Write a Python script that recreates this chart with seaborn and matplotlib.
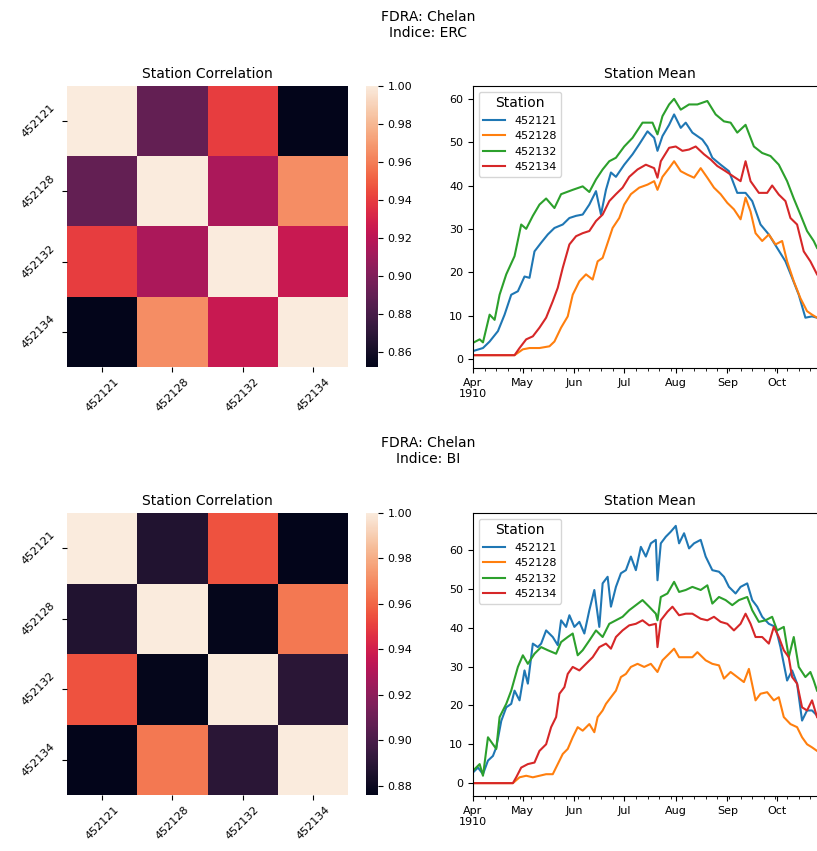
import numpy as np
import pandas as pd
import matplotlib
matplotlib.use("Agg")
import matplotlib.pyplot as plt
import matplotlib.dates as mdates
import matplotlib.ticker as mticker
import seaborn as sns

stations = ["452121", "452128", "452132", "452134"]
fdra = "Chelan"
indices = ["ERC", "BI"]

# correlation matrices
erc_corr = [[1.000, 0.890, 0.940, 0.852],
            [0.890, 1.000, 0.915, 0.965],
            [0.940, 0.915, 1.000, 0.925],
            [0.852, 0.965, 0.925, 1.000]]
bi_corr = [[1.000, 0.887, 0.955, 0.876],
           [0.887, 1.000, 0.877, 0.965],
           [0.955, 0.877, 1.000, 0.890],
           [0.876, 0.965, 0.890, 1.000]]

start_date = "1910-04-01"

# ---- ERC station means: (day offset from Apr 1, value) ----
erc_121_days = [0, 6, 10, 15, 19, 23, 27, 31, 34, 37, 41, 45, 49, 54, 58, 62, 66, 70, 74, 77, 80, 83, 86, 91, 96, 100, 105, 109, 111, 114, 118, 121, 125, 128, 132, 138, 141, 144, 149, 154, 159, 164, 168, 173, 178, 183, 188, 192, 196, 200, 204, 207]
erc_121_vals = [1.8, 2.5, 4, 6.4, 10.2, 14.8, 15.6, 19, 18.7, 24.8, 26.8, 28.7, 30.2, 31, 32.5, 33, 33.3, 35.6, 38.7, 33.3, 39, 43, 42, 44.8, 47.2, 49.5, 52.5, 51, 48, 51.4, 54, 56.4, 53.3, 54.5, 52.2, 50.6, 49, 46.4, 44.8, 43.3, 38.3, 38.3, 36.4, 31, 28.7, 25.6, 22.5, 18.7, 14.8, 9.5, 9.8, 9.5]

erc_128_days = [0, 25, 30, 34, 40, 46, 49, 53, 57, 60, 64, 68, 72, 75, 78, 80, 84, 88, 91, 95, 100, 105, 109, 111, 114, 118, 121, 125, 129, 133, 137, 141, 145, 149, 153, 157, 161, 164, 167, 170, 174, 178, 182, 186, 189, 193, 197, 201, 204, 207]
erc_128_vals = [0.85, 0.85, 2.2, 2.5, 2.5, 2.9, 4, 7.2, 9.8, 14.8, 17.9, 19.5, 18.3, 22.5, 23.3, 25.6, 30.2, 32.5, 35.6, 38, 39.5, 40.2, 41, 39, 42, 44, 45.6, 43.3, 42.5, 41.8, 44, 41.8, 39.5, 38, 36, 34.5, 32.2, 37.2, 34, 29, 27.2, 28.7, 26.4, 27.2, 22.5, 17.9, 14, 11, 10.2, 9.5]

erc_132_days = [0, 4, 6, 10, 13, 16, 20, 25, 29, 32, 36, 40, 44, 49, 53, 60, 66, 70, 74, 78, 82, 86, 91, 96, 102, 108, 111, 114, 118, 121, 125, 130, 135, 141, 146, 151, 155, 159, 164, 169, 174, 179, 184, 189, 193, 197, 201, 205, 207]
erc_132_vals = [3.7, 4.5, 3.8, 10.2, 9, 14.8, 19.5, 23.7, 31, 30, 33, 35.6, 37, 34.8, 38, 39, 39.8, 38.5, 41.4, 43.7, 45.6, 46.4, 49, 51, 54.5, 54.5, 51.8, 56, 58.7, 60, 57.5, 58.7, 58.7, 59.5, 56.4, 54.8, 54.5, 52.2, 54, 49, 47.5, 46.8, 44.8, 41, 37, 33.3, 29.5, 27.2, 25.6]

erc_134_days = [0, 25, 28, 32, 36, 40, 44, 48, 51, 54, 58, 62, 66, 70, 74, 78, 82, 86, 90, 94, 99, 104, 109, 111, 113, 118, 122, 126, 130, 134, 139, 143, 147, 152, 157, 161, 164, 167, 172, 177, 180, 184, 188, 191, 195, 199, 203, 207]
erc_134_vals = [0.85, 0.85, 2.5, 4.5, 5.2, 7.2, 9.5, 13.3, 16.4, 21, 26.4, 28.3, 29, 29.5, 31.8, 33.3, 36.4, 38, 39.5, 42, 43.7, 44.8, 44, 41.8, 45.6, 48.7, 49, 48, 48.3, 49, 47.2, 46, 44.5, 43.3, 42, 41, 45.6, 41, 38.3, 38.3, 40, 37.9, 36.4, 32.5, 31, 24.8, 22.5, 19.5]

# ---- BI station means ----
bi_121_days = [0, 3, 6, 9, 12, 14, 17, 20, 23, 25, 28, 31, 33, 36, 39, 41, 44, 48, 51, 53, 56, 58, 61, 64, 67, 70, 73, 76, 78, 81, 83, 86, 89, 92, 95, 98, 101, 104, 107, 110, 111, 113, 116, 119, 122, 124, 127, 130, 133, 137, 140, 144, 148, 151, 154, 158, 161, 165, 168, 171, 174, 178, 182, 185, 189, 192, 195, 198, 201, 204, 207]
bi_121_vals = [2.75, 4, 2.3, 5.8, 7, 9.2, 16, 19.5, 20.4, 23.8, 21.3, 29, 25.6, 35.9, 35, 35.9, 39.3, 37.6, 35.5, 41.9, 40.2, 43.2, 40.2, 41.5, 38.5, 44.5, 49.7, 40.2, 51.4, 53.1, 45.4, 50.5, 54, 54.8, 58.3, 54.8, 60.8, 58.3, 61.7, 62.6, 52.2, 61.7, 63.4, 64.7, 66.2, 61.7, 64.3, 60.4, 61.7, 62.6, 58.3, 54.8, 54.4, 53.1, 50.5, 48.8, 50.5, 51.4, 47.1, 45.4, 42.8, 41, 40.2, 35, 26.4, 29, 25.6, 16.1, 18.7, 18.7, 17.4]

bi_128_days = [0, 24, 28, 32, 36, 40, 44, 48, 51, 54, 57, 60, 63, 66, 70, 73, 75, 78, 80, 83, 86, 89, 92, 95, 99, 103, 107, 111, 114, 118, 121, 124, 128, 132, 135, 140, 144, 148, 151, 155, 159, 163, 166, 170, 173, 177, 181, 184, 187, 191, 195, 198, 201, 204, 207]
bi_128_vals = [0, 0, 1.5, 1.9, 1.5, 1.9, 2.3, 2.3, 4.9, 7.5, 8.8, 11.8, 14.4, 13.5, 15.2, 13.1, 17, 18.7, 20.4, 22.1, 23.8, 27.3, 28.1, 29.9, 30.7, 29.9, 30.7, 28.6, 31.6, 33.3, 34.6, 32.4, 32.4, 32.4, 33.7, 31.6, 30.7, 30.3, 26.9, 28.6, 27.3, 26, 29.4, 21.3, 23, 23.4, 21.3, 22.1, 17, 15.2, 14.4, 11.8, 10, 9.2, 8.3]

bi_132_days = [0, 4, 6, 9, 12, 14, 16, 20, 23, 27, 30, 33, 37, 41, 45, 50, 53, 57, 60, 63, 66, 70, 74, 78, 82, 86, 90, 94, 98, 102, 106, 110, 111, 113, 117, 121, 124, 128, 132, 137, 141, 144, 148, 152, 156, 160, 165, 168, 172, 176, 180, 183, 187, 190, 193, 196, 200, 203, 205, 207]
bi_132_vals = [3.2, 4.9, 1.9, 11.8, 10, 8.8, 17, 20.4, 23.8, 29.9, 32.9, 30.7, 33.3, 35, 34.2, 33.3, 36.3, 37.6, 38.5, 32.9, 34.2, 36.7, 39.3, 37.6, 41, 41.9, 42.8, 44.5, 45.8, 47.1, 45.4, 43.6, 41.9, 47.9, 48.8, 51.8, 49.2, 49.7, 50.5, 49.7, 50.9, 46.2, 47.9, 47.1, 45.8, 47.1, 47.9, 44.5, 41.5, 41.9, 42.8, 39.3, 40.2, 32.4, 37.6, 29.9, 27.3, 28.6, 26.4, 23.8]

bi_134_days = [0, 24, 26, 29, 33, 37, 40, 44, 47, 50, 52, 55, 57, 60, 64, 68, 72, 76, 80, 83, 86, 90, 94, 98, 102, 106, 110, 111, 113, 117, 120, 124, 128, 132, 137, 141, 145, 149, 153, 157, 161, 164, 167, 170, 174, 178, 181, 184, 187, 190, 192, 195, 198, 201, 204, 207]
bi_134_vals = [0, 0, 1.5, 4, 4.9, 5.3, 8.3, 10, 14.4, 17, 23, 24.7, 28.1, 29.9, 29, 30.7, 32.4, 35, 35.9, 34.6, 37.6, 39.3, 40.6, 41, 41.9, 40.6, 41, 35, 41.9, 44.1, 45.4, 43.2, 43.6, 43.6, 42.3, 41.9, 42.8, 41.5, 41, 39.3, 41, 43.6, 41, 37.6, 37.6, 35.9, 40.2, 37.6, 34.2, 32.4, 27.3, 25.6, 19.5, 18.7, 21.3, 17]

series = {
    "ERC": [(erc_121_days, erc_121_vals), (erc_128_days, erc_128_vals),
            (erc_132_days, erc_132_vals), (erc_134_days, erc_134_vals)],
    "BI": [(bi_121_days, bi_121_vals), (bi_128_days, bi_128_vals),
           (bi_132_days, bi_132_vals), (bi_134_days, bi_134_vals)],
}
corrs = {"ERC": erc_corr, "BI": bi_corr}
cbar_ticks = {"ERC": [0.86, 0.88, 0.90, 0.92, 0.94, 0.96, 0.98, 1.00],
              "BI": [0.88, 0.90, 0.92, 0.94, 0.96, 0.98, 1.00]}

W, H = 817, 851
fig = plt.figure(figsize=(W / 100, H / 100), dpi=100)


def box(x0, y0, x1, y1):
    return [x0 / W, 1 - y1 / H, (x1 - x0) / W, (y1 - y0) / H]


rows = [dict(top=86, bot=367, title_y=25), dict(top=513, bot=795, title_y=451)]
palette = sns.color_palette("tab10", 4)
t0 = pd.Timestamp(start_date)

for idx, row in zip(indices, rows):
    fig.text(428 / W, 1 - row["title_y"] / H, f"FDRA: {fdra}\nIndice: {idx}",
             ha="center", va="center", fontsize=10, linespacing=1.1)

    ax_h = fig.add_axes(box(67, row["top"], 348, row["bot"]))
    cax = fig.add_axes(box(366, row["top"], 378, row["bot"]))
    cdf = pd.DataFrame(corrs[idx], index=stations, columns=stations)
    sns.heatmap(cdf, ax=ax_h, cbar_ax=cax, cmap="rocket")
    ax_h.set_title("Station Correlation", fontsize=10)
    ax_h.set_xticklabels(stations, rotation=45, fontsize=8)
    ax_h.set_yticklabels(stations, rotation=45, fontsize=8, va="center")
    cax.set_yticks(cbar_ticks[idx])
    cax.set_yticklabels([f"{v:.2f}" for v in cbar_ticks[idx]])
    cax.tick_params(labelsize=8)

    ax_l = fig.add_axes(box(473, row["top"], 827, row["bot"] + 1))
    frames = []
    for st, (d, v) in zip(stations, series[idx]):
        frames.append(pd.DataFrame({
            "date": t0 + pd.to_timedelta(np.array(d), unit="D"),
            "value": v,
            "Station": st,
        }))
    ldf = pd.concat(frames, ignore_index=True)
    sns.lineplot(data=ldf, x="date", y="value", hue="Station", palette=palette,
                 ax=ax_l, linewidth=1.5, estimator=None, sort=True)
    ax_l.set_xlim(t0, t0 + pd.Timedelta(days=213))
    ax_l.set_title("Station Mean", fontsize=10)
    ax_l.set_xlabel("")
    ax_l.set_ylabel("")
    ax_l.xaxis.set_major_locator(mdates.MonthLocator())
    ax_l.xaxis.set_minor_locator(mdates.WeekdayLocator(byweekday=mdates.FR))

    def fmt(x, pos):
        d = mdates.num2date(x)
        if d.month == 4:
            return d.strftime("%b\n%Y")
        return d.strftime("%b")

    ax_l.xaxis.set_major_formatter(mticker.FuncFormatter(fmt))
    ax_l.tick_params(labelsize=8)
    for lab in ax_l.get_xticklabels():
        lab.set_rotation(0)
        lab.set_ha("center")
    ax_l.yaxis.set_major_locator(mticker.MultipleLocator(10))
    leg = ax_l.legend(title="Station", loc="upper left", fontsize=8,
                      title_fontsize=10)

fig.savefig("out.png", dpi=100)
